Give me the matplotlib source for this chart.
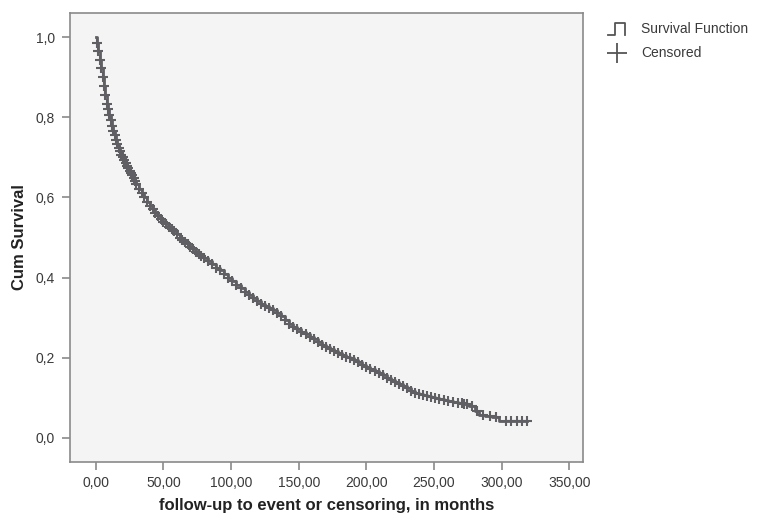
import numpy as np
import matplotlib.pyplot as plt
from matplotlib.lines import Line2D

# Kaplan-Meier steps (months, cum survival)
km_t = [0, 1, 2, 3, 4, 5, 6, 7, 8, 9, 10, 11, 12, 13, 14, 15, 16, 17, 18, 19,
        20, 21, 22, 23, 24, 25, 26, 27, 28, 29, 30, 32, 34, 36, 38, 40, 42, 44,
        46, 48, 50, 52, 54, 56, 58, 60, 62, 64, 66, 68, 70, 72, 74, 76, 78, 80,
        83, 86, 89, 92, 95, 98, 101, 104, 107, 110, 113, 116, 119, 122, 125,
        128, 131, 134, 137, 140, 143, 146, 149, 152, 155, 158, 161, 164, 167,
        170, 173, 176, 179, 182, 185, 188, 191, 194, 197, 200, 203, 206, 209,
        212, 215, 218, 221, 224, 227, 230, 233, 236, 239, 242, 245, 248, 251,
        254, 257, 260, 264, 268, 272, 276, 280, 283, 288, 293, 298]
km_s = [1.000, 0.985, 0.965, 0.944, 0.922, 0.900, 0.878, 0.856, 0.834, 0.820,
        0.806, 0.792, 0.779, 0.766, 0.755, 0.744, 0.734, 0.724, 0.715, 0.707,
        0.700, 0.693, 0.686, 0.679, 0.673, 0.667, 0.661, 0.655, 0.648, 0.641,
        0.634, 0.622, 0.611, 0.600, 0.589, 0.579, 0.570, 0.561, 0.553, 0.546,
        0.539, 0.533, 0.527, 0.521, 0.515, 0.508, 0.499, 0.495, 0.489, 0.483,
        0.477, 0.471, 0.465, 0.459, 0.454, 0.448, 0.441, 0.433, 0.425, 0.418,
        0.409, 0.400, 0.391, 0.382, 0.373, 0.364, 0.356, 0.349, 0.342, 0.335,
        0.329, 0.323, 0.318, 0.311, 0.303, 0.294, 0.285, 0.277, 0.271, 0.265,
        0.259, 0.253, 0.246, 0.239, 0.233, 0.227, 0.222, 0.218, 0.213, 0.208,
        0.203, 0.199, 0.195, 0.189, 0.182, 0.177, 0.172, 0.167, 0.162, 0.156,
        0.150, 0.145, 0.140, 0.135, 0.130, 0.124, 0.118, 0.113, 0.110, 0.106,
        0.104, 0.102, 0.100, 0.098, 0.095, 0.093, 0.090, 0.087, 0.084, 0.079,
        0.067, 0.058, 0.055, 0.052, 0.043]

# censored cases: one at most step times, then the sparse ones in the tail
censor_tail = [271, 274, 278, 282, 286, 291, 296, 303, 307, 311, 315, 319]
censor_t = km_t[1:-6] + censor_tail

xticks = [0, 50, 100, 150, 200, 250, 300, 350]
yticks = [0.0, 0.2, 0.4, 0.6, 0.8, 1.0]

curve_col = '#5f5f64'
text_col = '#3a3a3a'
frame_col = '#8a8a8a'

plt.rcParams['font.family'] = ['Liberation Sans', 'DejaVu Sans']

fig = plt.figure(figsize=(7.7, 5.22), dpi=100)
ax = fig.add_axes([0.091, 0.115, 0.666, 0.860])
ax.set_facecolor('#f4f4f4')

t_line = km_t + [censor_t[-1]]
s_line = km_s + [km_s[-1]]
ax.step(t_line, s_line, where='post', color=curve_col, lw=2.0)

idx = np.searchsorted(km_t, censor_t, side='right') - 1
censor_s = np.array(km_s)[idx]
ax.plot(censor_t, censor_s, ls='none', marker='+', ms=7, mew=1.5,
        color=curve_col)

ax.set_xlim(-19, 360)
ax.set_ylim(-0.06, 1.06)
ax.set_xticks(xticks)
ax.set_xticklabels([('%.2f' % v).replace('.', ',') for v in xticks])
ax.set_yticks(yticks)
ax.set_yticklabels([('%.1f' % v).replace('.', ',') for v in yticks])
ax.tick_params(direction='out', length=6, width=1.2, color=frame_col,
               labelsize=10, labelcolor=text_col, pad=5)
ax.tick_params(axis='x', pad=4)
for sp in ax.spines.values():
    sp.set_color(frame_col)
    sp.set_linewidth(1.2)

ax.set_xlabel('follow-up to event or censoring, in months', fontsize=12,
              fontweight='bold', color='#222222', labelpad=6)
ax.set_ylabel('Cum Survival', fontsize=12, fontweight='bold',
              color='#222222', labelpad=6)

# legend outside the plot area
W, H = 770.0, 522.0
step_x = [608, 615, 615, 625, 625]
step_y = [35, 35, 23, 23, 35]
fig.add_artist(Line2D([x / W for x in step_x], [1 - y / H for y in step_y],
                      color='#555555', lw=1.3, transform=fig.transFigure))
fig.add_artist(Line2D([617 / W], [1 - 53 / H], marker='+', ms=14, mew=1.3,
                      color='#555555', transform=fig.transFigure))
fig.text(641 / W, 1 - 29 / H, 'Survival Function', fontsize=10,
         color=text_col, va='center')
fig.text(641 / W, 1 - 53 / H, 'Censored', fontsize=10, color=text_col,
         va='center')

fig.savefig('out.png', dpi=100)
